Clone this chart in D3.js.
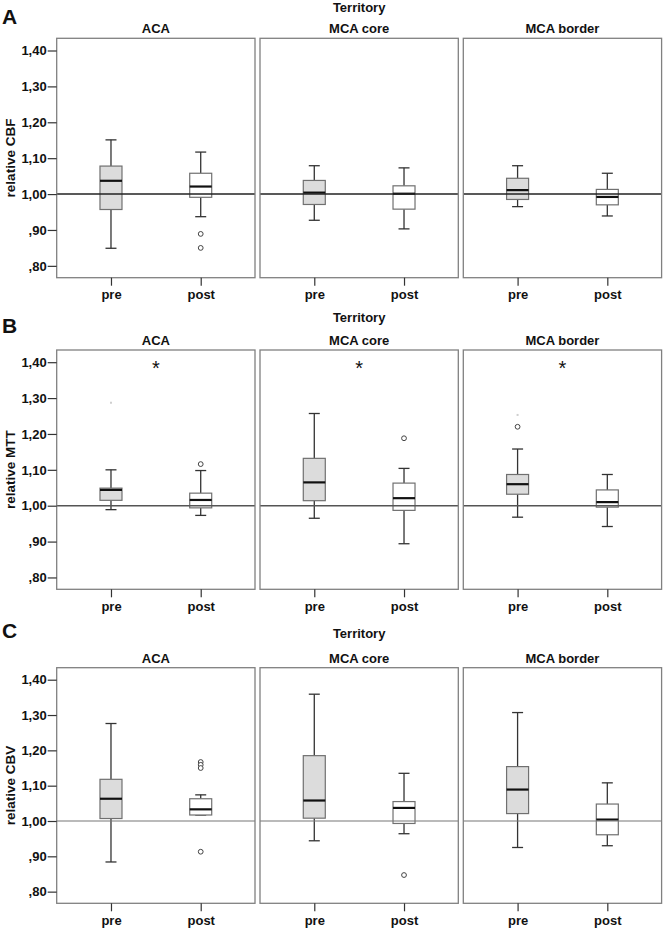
<!DOCTYPE html>
<html>
<head>
<meta charset="utf-8">
<script src="https://cdn.jsdelivr.net/npm/d3@7"></script>
<style>
  html, body { margin: 0; padding: 0; background: #fff; }
  svg { display: block; font-family: "Liberation Sans", Arial, sans-serif; }
  .axis text { font-size: 13px; font-weight: bold; fill: #111; }
  .axis line { stroke: #333; stroke-width: 1.2; }
  .axis path { display: none; }
</style>
</head>
<body>
<svg id="chart" width="664" height="930"></svg>
<script>
// ---------- data ----------
const categories = ["pre", "post"];
const territories = ["ACA", "MCA core", "MCA border"];
const measures = ["CBF", "MTT", "CBV"];
const panelLetters = ["A", "B", "C"];
const yTickValues = [0.80, 0.90, 1.00, 1.10, 1.20, 1.30, 1.40];
const yTickLabels = [",80", ",90", "1,00", "1,10", "1,20", "1,30", "1,40"];
const yDomain = [0.767, 1.434];
const referenceValue = 1.00;

// box stats per territory: [lower whisker, Q1, median, Q3, upper whisker]
const cbfPre  = [[0.849, 0.957, 1.037, 1.078, 1.151], [0.927, 0.971, 1.004, 1.038, 1.079], [0.965, 0.985, 1.011, 1.044, 1.079]];
const cbfPost = [[0.937, 0.991, 1.021, 1.058, 1.117], [0.903, 0.958, 1.001, 1.023, 1.073], [0.939, 0.970, 0.992, 1.013, 1.058]];
const mttPre  = [[0.989, 1.015, 1.044, 1.049, 1.100], [0.965, 1.014, 1.065, 1.132, 1.257], [0.968, 1.032, 1.060, 1.087, 1.158]];
const mttPost = [[0.973, 0.994, 1.016, 1.035, 1.098], [0.894, 0.987, 1.021, 1.063, 1.104], [0.942, 0.996, 1.010, 1.044, 1.087]];
const cbvPre  = [[0.884, 1.007, 1.063, 1.118, 1.276], [0.944, 1.008, 1.058, 1.185, 1.359], [0.925, 1.021, 1.089, 1.154, 1.307]];
const cbvPost = [[1.017, 1.017, 1.033, 1.063, 1.074], [0.964, 0.993, 1.037, 1.055, 1.135], [0.930, 0.961, 1.004, 1.048, 1.108]];

// outliers per territory: [pre values, post values]
const cbfOutliers = [[[], [0.889, 0.850]], [[], []], [[], []]];
const mttOutliers = [[[], [1.116]], [[], [1.188]], [[1.220], []]];
const cbvOutliers = [[[], [1.167, 1.159, 1.150, 0.913]], [[], [0.847]], [[], []]];
// faint extreme markers
const mttExtremes = [[[1.287], []], [[], []], [[1.253], []]];
const emptyExtremes = [[[], []], [[], []], [[], []]];

// significance marks per territory
const cbfSig = ["", "", ""];
const mttSig = ["*", "*", "*"];
const cbvSig = ["", "", ""];

const rows = [
  { pre: cbfPre, post: cbfPost, out: cbfOutliers, ext: emptyExtremes, sig: cbfSig },
  { pre: mttPre, post: mttPost, out: mttOutliers, ext: mttExtremes, sig: mttSig },
  { pre: cbvPre, post: cbvPost, out: cbvOutliers, ext: emptyExtremes, sig: cbvSig }
];

// ---------- layout ----------
const rowTops = [38.3, 350, 667.7];
const rowBottoms = [277.7, 589.3, 903.3];
const letterY = [24, 333, 638];
const territoryY = [11.5, 322, 637.5];
const colLefts = [56.7, 260, 463.3];
const panelW = 198.3;
const boxW = 22;
const capW = 11;
const refStyles = [{ c: "#222", w: 1.5 }, { c: "#555", w: 1.4 }, { c: "#777", w: 1.1 }];

const svg = d3.select("#chart");

rows.forEach((row, r) => {
  const top = rowTops[r], bottom = rowBottoms[r];
  const y = d3.scaleLinear().domain(yDomain).range([bottom, top]);
  const g = svg.append("g");

  // panel letter
  g.append("text").attr("x", 2).attr("y", letterY[r])
    .attr("font-size", 21).attr("font-weight", "bold").attr("fill", "#111")
    .text(panelLetters[r]);

  // "Territory" super title
  g.append("text").attr("x", colLefts[1] + panelW / 2).attr("y", territoryY[r])
    .attr("text-anchor", "middle").attr("font-size", 13).attr("font-weight", "bold").attr("fill", "#111")
    .text("Territory");

  // y label
  const ly = (top + bottom) / 2;
  g.append("text").attr("transform", `translate(15,${ly}) rotate(-90)`)
    .attr("text-anchor", "middle").attr("font-size", 13.5).attr("font-weight", "bold").attr("fill", "#111")
    .text("relative " + measures[r]);

  territories.forEach((terr, c) => {
    const x0 = colLefts[c];
    const x = d3.scalePoint().domain(categories).range([x0, x0 + panelW]).padding(0.605);
    const pg = g.append("g");

    // title
    pg.append("text").attr("x", x0 + panelW / 2).attr("y", top - 5)
      .attr("text-anchor", "middle").attr("font-size", 13).attr("font-weight", "bold").attr("fill", "#111")
      .text(terr);

    // boxes
    categories.forEach((cat, k) => {
      const s = (k === 0 ? row.pre : row.post)[c];
      const cx = x(cat);
      const [lo, q1, med, q3, hi] = s;
      // whiskers
      pg.append("line").attr("x1", cx).attr("x2", cx).attr("y1", y(hi)).attr("y2", y(q3))
        .attr("stroke", "#333").attr("stroke-width", 1.3);
      pg.append("line").attr("x1", cx).attr("x2", cx).attr("y1", y(q1)).attr("y2", y(lo))
        .attr("stroke", "#333").attr("stroke-width", 1.3);
      pg.append("line").attr("x1", cx - capW / 2).attr("x2", cx + capW / 2).attr("y1", y(hi)).attr("y2", y(hi))
        .attr("stroke", "#333").attr("stroke-width", 1.3);
      pg.append("line").attr("x1", cx - capW / 2).attr("x2", cx + capW / 2).attr("y1", y(lo)).attr("y2", y(lo))
        .attr("stroke", "#333").attr("stroke-width", 1.3);
      // box
      pg.append("rect").attr("x", cx - boxW / 2).attr("width", boxW)
        .attr("y", y(q3)).attr("height", Math.max(0.5, y(q1) - y(q3)))
        .attr("fill", k === 0 ? "#dcdcdc" : "#ffffff").attr("stroke", "#707070").attr("stroke-width", 1.2);
      // median
      pg.append("line").attr("x1", cx - boxW / 2).attr("x2", cx + boxW / 2).attr("y1", y(med)).attr("y2", y(med))
        .attr("stroke", "#111").attr("stroke-width", 2.2);
      // outliers
      row.out[c][k].forEach(v => {
        pg.append("circle").attr("cx", cx).attr("cy", y(v)).attr("r", 2.4)
          .attr("fill", "#fff").attr("stroke", "#444").attr("stroke-width", 1);
      });
      row.ext[c][k].forEach(v => {
        pg.append("rect").attr("x", cx - 1).attr("y", y(v) - 1).attr("width", 2).attr("height", 2)
          .attr("fill", "#cfcfcf");
      });
    });

    // reference line
    pg.append("line").attr("x1", x0).attr("x2", x0 + panelW)
      .attr("y1", y(referenceValue)).attr("y2", y(referenceValue))
      .attr("stroke", refStyles[r].c).attr("stroke-width", refStyles[r].w);

    // significance
    if (row.sig[c]) {
      pg.append("text").attr("x", x0 + panelW / 2).attr("y", top + 25)
        .attr("text-anchor", "middle").attr("font-size", 20).attr("fill", "#111")
        .text(row.sig[c]);
    }

    // panel frame
    pg.append("rect").attr("x", x0).attr("y", top).attr("width", panelW).attr("height", bottom - top)
      .attr("fill", "none").attr("stroke", "#808080").attr("stroke-width", 1.3);

    // x axis
    pg.append("g").attr("class", "axis").attr("transform", `translate(0,${bottom})`)
      .call(d3.axisBottom(x).tickSize(8).tickPadding(4));

    // y axis (first column only)
    if (c === 0) {
      pg.append("g").attr("class", "axis").attr("transform", `translate(${x0},0)`)
        .call(d3.axisLeft(y).tickValues(yTickValues).tickFormat((d, i) => yTickLabels[i]).tickSize(9).tickPadding(1));
    }
  });
});
</script>
</body>
</html>
